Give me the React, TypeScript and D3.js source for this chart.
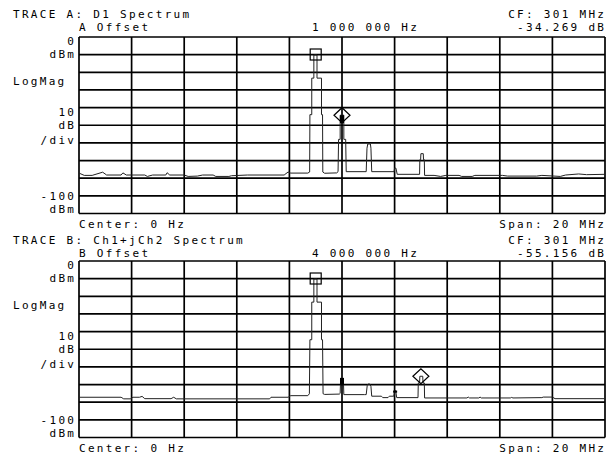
import * as d3 from 'd3'
import { useEffect, useRef } from 'react'

const W = 613
const H = 458

// frequency axis (MHz): center 0 Hz, span 20 MHz ; level axis dBm, 10 dB/div
const freqDomain: [number, number] = [-10, 10]
const levelDomain: [number, number] = [-100, 0]
const xTicks = [-10, -8, -6, -4, -2, 0, 2, 4, 6, 8, 10]
const yTicks = [0, -10, -20, -30, -40, -50, -60, -70, -80, -90, -100]

// [MHz, dBm]
const traceA: [number, number][] = [
	[-10, -77.1], [-9.8, -78.4], [-9.5, -78.4], [-9.1, -76.6], [-8.95, -78.2], [-8.4, -78.2],
	[-8.33, -77.0], [-8.2, -78.2], [-7.5, -78.2], [-7.4, -79.0], [-7.2, -78.2], [-6.7, -78.2],
	[-6.65, -76.9], [-6.55, -78.2], [-6.0, -78.2], [-5.85, -79.0], [-5.5, -78.8], [-5.3, -78.2],
	[-4.9, -78.2], [-4.8, -79.0], [-4.3, -79.0], [-4.2, -78.6], [-3.6, -78.2], [-2.2, -78.2],
	[-2.05, -76.5], [-1.95, -77.1], [-1.3, -77.1], [-1.23, -76.5], [-1.22, -44], [-1.15, -44],
	[-1.15, -23.3], [-1.07, -23.3], [-1.07, -10.2], [-0.95, -10.2], [-0.95, -23.3], [-0.78, -23.3],
	[-0.78, -44], [-0.74, -44], [-0.73, -76.5], [-0.66, -77.2], [-0.2, -77.0], [-0.15, -76.3],
	[-0.13, -58], [-0.07, -58], [-0.07, -44.3], [0.07, -44.3], [0.07, -58], [0.14, -58],
	[0.16, -76.3], [0.92, -76.3], [0.95, -63], [0.98, -60.6], [1.08, -60.6], [1.1, -63],
	[1.13, -76.3], [1.98, -76.3], [2.0, -74.3], [2.05, -74.3], [2.1, -77.8], [2.95, -77.8],
	[2.96, -69.5], [2.99, -69.5], [3.0, -66.1], [3.09, -66.1], [3.1, -69.5], [3.13, -69.5],
	[3.14, -78.4], [3.5, -78.4], [3.75, -79.0], [3.95, -78.4], [4.45, -78.4], [4.55, -79.0],
	[4.95, -79.0], [5.05, -78.4], [6.1, -78.4], [6.3, -78.8], [7.4, -78.8], [7.6, -78.4],
	[8.3, -79.0], [8.5, -78.2], [9.0, -77.6], [9.3, -78.0], [10, -77.8],
]

const traceB: [number, number][] = [
	[-10, -77.2], [-8.4, -77.2], [-8.3, -78.1], [-8.05, -78.1], [-7.95, -77.2], [-7.7, -77.2],
	[-7.6, -76.7], [-7.5, -78.0], [-6.5, -78.0], [-6.4, -77.2], [-6.3, -78.1], [-2.75, -78.1],
	[-2.7, -77.2], [-2.05, -77.2], [-1.95, -76.3], [-1.3, -76.3], [-1.24, -75.2], [-1.22, -44.6],
	[-1.15, -44.6], [-1.15, -23.3], [-1.07, -23.3], [-1.07, -10.2], [-0.95, -10.2], [-0.95, -23.3],
	[-0.78, -23.3], [-0.78, -44.6], [-0.74, -44.6], [-0.72, -75.2], [-0.66, -75.6], [-0.1, -75.4],
	[-0.07, -75.0], [-0.05, -66.3], [0.05, -66.3], [0.07, -75.7], [0.85, -75.7], [0.92, -75.7],
	[0.96, -70.5], [0.99, -69.7], [1.06, -69.7], [1.1, -71], [1.13, -76.6], [1.5, -76.6],
	[1.55, -77.4], [1.75, -77.4], [1.8, -76.6], [1.97, -76.6], [2.0, -73.4], [2.04, -73.4],
	[2.08, -77.4], [2.89, -77.4], [2.9, -69.1], [2.95, -69.1], [2.96, -65.3], [3.07, -65.3],
	[3.08, -69.1], [3.13, -69.1], [3.14, -77.6], [4.75, -77.6], [4.8, -77.1], [4.85, -77.6],
	[5.2, -77.6], [5.25, -77.1], [5.3, -77.6], [6.4, -77.6], [6.45, -77.3], [6.5, -77.6],
	[7.6, -77.4], [7.65, -77.1], [8.0, -77.1], [8.1, -78.0], [10, -78.0],
]

const titles = ['TRACE A: D1 Spectrum', 'TRACE B: Ch1+jCh2 Spectrum']
const offsetNames = ['A Offset', 'B Offset']
const offsetValues = ['1 000 000 Hz', '4 000 000 Hz']
const cfLabels = ['CF: 301 MHz', 'CF: 301 MHz']
const deltaLabels = ['-34.269 dB', '-55.156 dB']
const centerLabel = 'Center: 0 Hz'
const spanLabel = 'Span: 20 MHz'

// markers: [MHz, dBm]
const refMarkers: [number, number][] = [[-1, -10.2], [-1, -10.2]]
const deltaMarkers: [number, number][] = [[0, -44.3], [3, -65.3]]
// bold segments on the trace: [MHz, top dBm, bottom dBm]
const boldSegs: [number, number, number][][] = [
	[[0, -44.3, -48.8]],
	[[0, -66.3, -70.3], [2.02, -73.4, -74.6]],
]

const traces = [traceA, traceB]
const panelTops = [37, 261]
const titleYs = [18, 243.5]
const offsetYs = [31, 256.5]

const FONT = 'DejaVu Sans Mono'
const LS = 2.3

export default function App() {
	const svgRef = useRef<SVGSVGElement>(null)

	useEffect(() => {
		const svg = d3.select(svgRef.current)
		svg.selectAll('*').remove()
		const left = 79
		const right = 605
		const ph = 176.5

		const txt = (x: number, y: number, s: string, anchor = 'start') =>
			svg
				.append('text')
				.attr('x', anchor === 'end' ? x + LS : x)
				.attr('y', y)
				.attr('text-anchor', anchor)
				.attr('font-family', FONT)
				.attr('font-size', 11)
				.attr('letter-spacing', LS)
				.attr('fill', '#000')
				.text(s)

		traces.forEach((trace, i) => {
			const top = panelTops[i]
			const x = d3.scaleLinear().domain(freqDomain).range([left, right])
			const y = d3.scaleLinear().domain(levelDomain).range([top + ph, top])
			const g = svg.append('g')

			// grid
			g.selectAll('.vg')
				.data(xTicks)
				.enter()
				.append('line')
				.attr('x1', (d) => x(d))
				.attr('x2', (d) => x(d))
				.attr('y1', top)
				.attr('y2', top + ph)
				.attr('stroke', '#000')
				.attr('stroke-width', 1.7)
			g.selectAll('.hg')
				.data(yTicks)
				.enter()
				.append('line')
				.attr('x1', left)
				.attr('x2', right)
				.attr('y1', (d) => y(d))
				.attr('y2', (d) => y(d))
				.attr('stroke', '#000')
				.attr('stroke-width', 1.7)

			// trace
			const line = d3
				.line<[number, number]>()
				.x((d) => x(d[0]))
				.y((d) => y(d[1]))
			g.append('path')
				.datum(trace)
				.attr('fill', 'none')
				.attr('stroke', '#222')
				.attr('stroke-width', 1)
				.attr('d', line)

			boldSegs[i].forEach((s) => {
				g.append('rect')
					.attr('x', x(s[0]) - 2)
					.attr('y', y(s[1]))
					.attr('width', 4)
					.attr('height', y(s[2]) - y(s[1]))
					.attr('fill', '#000')
			})

			// reference marker (square)
			const rm = refMarkers[i]
			g.append('rect')
				.attr('x', x(rm[0]) - 5.5)
				.attr('y', y(rm[1]) - 6)
				.attr('width', 11)
				.attr('height', 11)
				.attr('fill', 'none')
				.attr('stroke', '#000')
				.attr('stroke-width', 1.2)

			// delta marker (diamond)
			const dm = deltaMarkers[i]
			const cx = x(dm[0])
			const cy = y(dm[1])
			g.append('path')
				.attr('d', `M${cx - 8},${cy} L${cx},${cy - 7.5} L${cx + 8},${cy} L${cx},${cy + 7.5} Z`)
				.attr('fill', 'none')
				.attr('stroke', '#000')
				.attr('stroke-width', 1.2)

			// labels
			txt(13, titleYs[i], titles[i])
			txt(79, offsetYs[i], offsetNames[i])
			txt(312, offsetYs[i], offsetValues[i])
			txt(604, titleYs[i], cfLabels[i], 'end')
			txt(604, offsetYs[i], deltaLabels[i], 'end')

			txt(74, top + 8, '0', 'end')
			txt(74, top + 21, 'dBm', 'end')
			txt(13, top + 48, 'LogMag')
			txt(74, top + 78.5, '10', 'end')
			txt(74, top + 91.5, 'dB', 'end')
			txt(74, top + 106.5, '/div', 'end')
			txt(74, top + 162.5, '-100', 'end')
			txt(74, top + 175.5, 'dBm', 'end')
			txt(79, top + 191, centerLabel)
			txt(604, top + 191, spanLabel, 'end')
		})
	}, [])

	return (
		<div style={{ position: 'absolute', left: 0, top: 0 }}>
			<svg ref={svgRef} width={W} height={H} style={{ display: 'block', background: '#fff' }} />
		</div>
	)
}
